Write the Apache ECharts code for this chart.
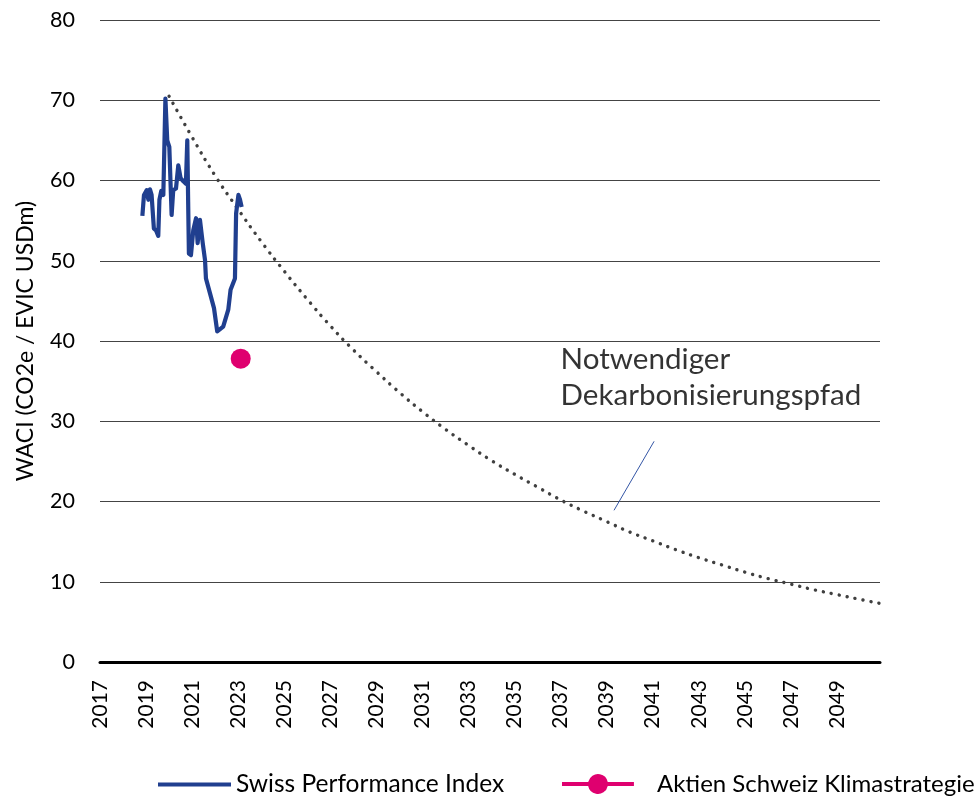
<!DOCTYPE html>
<html>
<head>
<meta charset="utf-8">
<script src="https://cdn.jsdelivr.net/npm/echarts@6/dist/echarts.min.js"></script>
<style>
  html, body { margin: 0; padding: 0; background: #fff; }
  #chart { width: 980px; height: 798px; }
</style>
</head>
<body>
<div id="chart"></div>
<script>
// Swiss Performance Index, WACI over time (decimal year, value)
const spiYears = [
  2018.84, 2018.91, 2019.03, 2019.10, 2019.17, 2019.24, 2019.34, 2019.43, 2019.53, 2019.58,
  2019.66, 2019.75, 2019.84, 2019.92, 2020.01, 2020.11, 2020.18, 2020.30, 2020.40, 2020.50,
  2020.62, 2020.73, 2020.79, 2020.86, 2020.95, 2021.05, 2021.17, 2021.24, 2021.34, 2021.46,
  2021.56, 2021.60, 2021.78, 2021.95, 2022.09, 2022.35, 2022.57, 2022.67, 2022.86, 2022.91,
  2023.01, 2023.08, 2023.15
];
const spiValues = [
  55.6, 58.2, 58.8, 57.6, 58.9, 58.2, 54.0, 53.8, 53.1, 57.6,
  58.7, 58.2, 70.2, 65.0, 64.2, 55.7, 58.8, 59.0, 61.9, 60.3,
  59.9, 59.6, 65.0, 50.9, 50.7, 53.8, 55.3, 52.2, 55.1, 52.2,
  50.1, 47.8, 45.9, 44.1, 41.2, 41.8, 43.9, 46.4, 47.8, 55.9,
  58.2, 57.6, 56.7
];

// Aktien Schweiz Klimastrategie (single point)
const klimaYear = [2023.11];
const klimaValue = [37.8];

// required decarbonisation path
const pathYears = [
  2020, 2021, 2022, 2023, 2024, 2025, 2026, 2027, 2028, 2029, 2030,
  2031, 2032, 2033, 2034, 2035, 2036, 2037, 2038, 2039, 2040,
  2041, 2042, 2043, 2044, 2045, 2046, 2047, 2048, 2049, 2050, 2050.87
];
const pathValues = [
  70.5, 65.4, 60.6, 56.4, 52.4, 48.7, 45.2, 41.9, 38.9, 36.2, 33.6,
  31.2, 29.0, 27.0, 25.1, 23.4, 21.8, 20.2, 18.8, 17.5, 16.2,
  15.1, 14.0, 13.0, 12.1, 11.2, 10.4, 9.7, 9.0, 8.4, 7.8, 7.3
];

// annotation leader line and label anchor
const leaderYears = [2039.32, 2041.06];
const leaderValues = [18.9, 27.5];
const noteAnchor = [2037.02, 39.9];
const noteText = 'Notwendiger\nDekarbonisierungspfad';

const FONT = 'Lato';

const zip = (xs, ys) => xs.map((x, i) => [x, ys[i]]);

// legend icons: plain bar, and bar with a dot in the middle
const ICON_LINE = 'path://M0,0H73V4H0Z';
const ICON_LINE_DOT = 'path://M0,8H26.2A10,10 0 0 1 45.8,8H72V12H45.8A10,10 0 0 1 26.2,12H0Z';

const chart = echarts.init(document.getElementById('chart'), null, { renderer: 'canvas' });

const option = {
  animation: false,
  textStyle: { fontFamily: FONT },
  grid: { left: 100, right: 100, top: 20, bottom: 136, containLabel: false },
  legend: [
    {
      data: [{ name: 'Swiss Performance Index', icon: ICON_LINE }],
      left: 153,
      top: 767,
      itemWidth: 73,
      itemHeight: 4,
      textStyle: { fontFamily: FONT, fontSize: 24.5, color: '#000' },
      selectedMode: false
    },
    {
      data: [{ name: 'Aktien Schweiz Klimastrategie', icon: ICON_LINE_DOT }],
      left: 557,
      top: 767,
      itemWidth: 72,
      itemHeight: 20,
      textStyle: { fontFamily: FONT, fontSize: 24, color: '#000', padding: [0, 0, 0, 18] },
      selectedMode: false
    }
  ],
  xAxis: {
    type: 'value',
    min: 2017,
    max: 2050.87,
    interval: 2,
    axisLine: { show: true, onZero: true, lineStyle: { color: '#000', width: 3 } },
    axisTick: { show: false },
    splitLine: { show: false },
    axisLabel: {
      rotate: 90,
      margin: 18,
      fontSize: 21,
      color: '#000',
      fontFamily: FONT,
      showMaxLabel: false,
      formatter: v => (Number.isInteger(v) ? String(v) : '')
    }
  },
  yAxis: {
    type: 'value',
    min: 0,
    max: 80,
    interval: 10,
    name: 'WACI (CO2e / EVIC USDm)',
    nameLocation: 'middle',
    nameGap: 63,
    nameTextStyle: { fontFamily: FONT, fontSize: 23, color: '#000' },
    axisLine: { show: false },
    axisTick: { show: false },
    axisLabel: { fontSize: 21.5, color: '#000', margin: 25, fontFamily: FONT },
    splitLine: { lineStyle: { color: '#444', width: 1 } }
  },
  series: [
    {
      name: 'Dekarbonisierungspfad',
      type: 'line',
      data: zip(pathYears, pathValues),
      symbol: 'none',
      smooth: true,
      lineStyle: { color: '#404040', width: 3.4, type: [0.1, 8], cap: 'round' },
      z: 2
    },
    {
      name: 'Swiss Performance Index',
      type: 'line',
      data: zip(spiYears, spiValues),
      symbol: 'none',
      lineStyle: { color: '#203f8f', width: 4.2, join: 'round' },
      itemStyle: { color: '#203f8f' },
      z: 3
    },
    {
      name: 'Aktien Schweiz Klimastrategie',
      type: 'line',
      data: zip(klimaYear, klimaValue),
      symbol: 'circle',
      symbolSize: 20,
      itemStyle: { color: '#df006f' },
      lineStyle: { color: '#df006f', width: 4 },
      z: 4
    },
    {
      name: 'leader',
      type: 'line',
      data: zip(leaderYears, leaderValues),
      symbol: 'none',
      lineStyle: { color: '#3355a5', width: 1 },
      silent: true,
      z: 3
    },
    {
      name: 'note',
      type: 'scatter',
      data: [noteAnchor],
      symbolSize: 1,
      itemStyle: { color: 'rgba(0,0,0,0)' },
      silent: true,
      label: {
        show: true,
        position: [0, 0],
        align: 'left',
        verticalAlign: 'top',
        formatter: noteText,
        fontFamily: FONT,
        fontSize: 29.6,
        lineHeight: 36,
        color: '#000'
      },
      z: 5
    }
  ]
};

chart.setOption(option);
</script>
</body>
</html>
